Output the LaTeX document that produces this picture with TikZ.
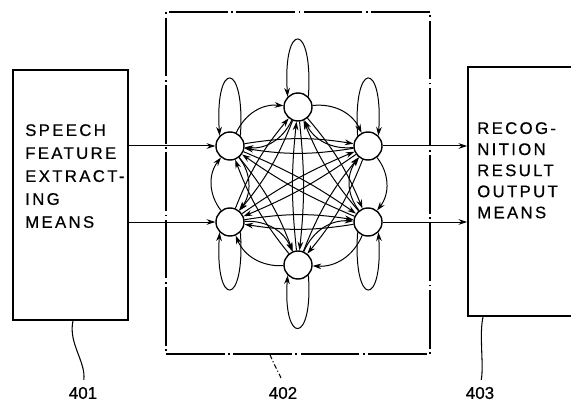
\documentclass[tikz,border=0pt]{standalone}
\usepackage{fontspec}
\setmainfont{Liberation Sans}
\newfontfamily\labfont[LetterSpace=14,FakeBold=0.6]{Liberation Sans}
\newfontfamily\numfont[FakeBold=0.6]{Liberation Sans}
\usetikzlibrary{arrows.meta}
\tikzset{
  blk/.style={draw,line width=1.5pt,inner sep=0pt},
  frame/.style={draw,line width=1.3pt,inner sep=0pt,dash pattern=on 50pt off 3pt on 1.5pt off 3pt},
  unit/.style={circle,draw,line width=1.2pt,fill=white,minimum size=0.84cm,inner sep=0pt},
  arr/.style={-{Stealth[length=2.6mm,width=1.7mm]},line width=0.85pt},
  lbl/.style={anchor=north west,align=left,inner sep=0pt},
  num/.style={font=\numfont\fontsize{14.5}{16}\selectfont,inner sep=0pt},
  lead/.style={line width=0.9pt,shorten >=6pt},
}
\begin{document}
\begin{tikzpicture}[x=0.03cm,y=-0.03cm]
  \useasboundingbox (0,0) rectangle (571,405);
  \clip (0,0) rectangle (571,405);
  % blocks
  \node[blk,minimum width=3.45cm,minimum height=7.5cm] (sfe) at (70.5,195) {};
  \node[lbl,font=\labfont\fontsize{14.3}{19.6}\selectfont] (sfetxt) at (25,124) {SPEECH\\FEATURE\\EXTRACT-\\ING\\MEANS};
  \node[frame,minimum width=7.92cm,minimum height=10.26cm] (net) at (298,183) {};
  \node[blk,minimum width=4.56cm,minimum height=7.47cm] (rro) at (544,191.5) {};
  \node[lbl,font=\labfont\fontsize{14.3}{18}\selectfont] (rrotxt) at (477,122) {RECOG-\\NITION\\RESULT\\OUTPUT\\MEANS};
  % units
  \foreach \n/\x/\y in {1/298/107,2/368/146,3/368/222,4/298/265,5/230/222,6/230/146}
    \node[unit] (n\n) at (\x,\y) {};
  % links between units
  \foreach \i/\j/\b in {1/2/35,2/3/38,3/4/35,4/5/35,5/6/38,6/1/35,1/3/9,2/4/9,3/5/9,4/6/9,5/1/9,6/2/9,1/4/6,2/5/6,3/6/6}{
    \draw[arr] (n\i) to[bend left=\b] (n\j);
    \draw[arr] (n\j) to[bend left=\b] (n\i);
  }
  % self loops
  \foreach \n/\a/\b/\s/\d in {1/45/135/1/-76,6/45/135/1/-76,2/135/45/-1/-76,5/-45/-135/1/76,4/-45/-135/1/70,3/-135/-45/-1/76}
    \draw[arr] (n\n.\a) .. controls +(\s*5,\d) and +(-\s*5,\d) .. (n\n.\b);
  % in and out
  \draw[arr] (sfe.east |- n6) -- (n6);
  \draw[arr] (sfe.east |- n5) -- (n5);
  \draw[arr] (n2) -- (rro.west |- n2);
  \draw[arr] (n3) -- (rro.west |- n3);
  % reference numerals
  \node[num] (l401) at (83,393) {401};
  \node[num] (l402) at (283,393) {402};
  \node[num] (l403) at (480,393) {403};
  \draw[lead] ([xshift=0.075cm]sfe.south) .. controls +(-5,22) and +(3,-25) .. (l401.north);
  \draw[lead,dash pattern=on 4pt off 2pt on 1pt off 2pt] ([xshift=-0.84cm]net.south) .. controls +(4,10) and +(-2,-10) .. (l402.north);
  \draw[lead] ([xshift=-1.83cm]rro.south) .. controls +(-4,18) and +(4,-22) .. (l403.north);
\end{tikzpicture}
\end{document}
